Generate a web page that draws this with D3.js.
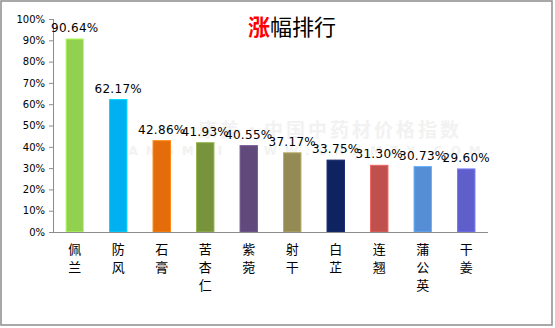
<!DOCTYPE html>
<html>
<head>
<meta charset="utf-8">
<script src="https://cdn.jsdelivr.net/npm/d3@7"></script>
<style>
  html, body { margin: 0; padding: 0; background: #fff; }
  svg { display: block; }
</style>
</head>
<body>
<svg id="chart" width="555" height="328"></svg>
<script>
// Herb names (one character per line on the axis) and their price gains
const herbs = ["佩兰", "防风", "石膏", "苦杏仁", "紫菀", "射干", "白芷", "连翘", "蒲公英", "干姜"];
const gains = [0.9064, 0.6217, 0.4286, 0.4193, 0.4055, 0.3717, 0.3375, 0.3130, 0.3073, 0.2960];
const barColors = ["#92D050", "#00B0F0", "#E46C0A", "#77933C", "#604A7B",
                   "#948A54", "#0F2360", "#C0504D", "#558ED5", "#5F5FCC"];
const yTicks = [0, 0.1, 0.2, 0.3, 0.4, 0.5, 0.6, 0.7, 0.8, 0.9, 1.0];

const svg = d3.select("#chart");

// outer frame
svg.append("rect")
  .attr("x", 1).attr("y", 1).attr("width", 551).attr("height", 324)
  .attr("fill", "#fff").attr("stroke", "#8c8c8c").attr("stroke-width", 1.5);

// faint watermark
const wm = svg.append("g").attr("fill", "#f2f2f2");
wm.append("text")
  .attr("x", 330).attr("y", 137).attr("text-anchor", "middle")
  .attr("font-family", "Noto Sans CJK SC").attr("font-weight", "bold").attr("font-size", 19)
  .attr("letter-spacing", 3)
  .text("康美·中国中药材价格指数");
wm.append("text")
  .attr("x", 300).attr("y", 155).attr("text-anchor", "middle")
  .attr("font-family", "DejaVu Sans").attr("font-weight", "bold").attr("font-size", 12)
  .attr("letter-spacing", 8)
  .text("KANGMEI WWW.CNKMZY.COM");

const x = d3.scaleBand().domain(herbs).range([53, 488]).paddingInner(0.6).paddingOuter(0.3);
const y = d3.scaleLinear().domain([0, 1]).range([232, 19]);

// y axis
const yAxis = svg.append("g")
  .attr("transform", "translate(53,0)")
  .call(d3.axisLeft(y).tickValues(yTicks).tickFormat(d3.format(".0%")).tickSize(4).tickPadding(4));
yAxis.select(".domain").attr("stroke", "#8c8c8c").attr("d", "M0.5,19V232.5");
yAxis.selectAll(".tick line").attr("stroke", "#8c8c8c");
yAxis.selectAll(".tick text")
  .attr("font-family", "DejaVu Sans").attr("font-size", 10).attr("fill", "#000");

// bars
svg.append("g").selectAll("rect")
  .data(herbs)
  .join("rect")
  .attr("x", d => x(d))
  .attr("y", (d, i) => y(gains[i]))
  .attr("width", x.bandwidth())
  .attr("height", (d, i) => y(0) - y(gains[i]))
  .attr("fill", (d, i) => barColors[i])
  .attr("stroke", (d, i) => d3.color(barColors[i]).brighter(0.6))
  .attr("stroke-width", 1);

// x axis baseline
svg.append("line")
  .attr("x1", 53).attr("x2", 488).attr("y1", 232.5).attr("y2", 232.5)
  .attr("stroke", "#8c8c8c").attr("stroke-width", 1);

// value labels
svg.append("g").selectAll("text")
  .data(herbs)
  .join("text")
  .attr("x", d => x(d) + x.bandwidth() / 2)
  .attr("y", (d, i) => y(gains[i]) - 7)
  .attr("text-anchor", "middle")
  .attr("font-family", "DejaVu Sans").attr("font-size", 12).attr("letter-spacing", 0.3)
  .attr("fill", "#000")
  .text((d, i) => d3.format(".2%")(gains[i]));

// category labels, stacked vertically
const cat = svg.append("g").selectAll("text")
  .data(herbs)
  .join("text")
  .attr("text-anchor", "middle")
  .attr("font-family", "Noto Sans CJK SC").attr("font-size", 13)
  .attr("fill", "#000");
cat.each(function (d) {
  const t = d3.select(this);
  const cx = x(d) + x.bandwidth() / 2;
  Array.from(d).forEach((ch, k) => {
    t.append("tspan").attr("x", cx).attr("y", 254 + k * 18).text(ch);
  });
});

// title
const title = svg.append("text")
  .attr("x", 248).attr("y", 35)
  .attr("font-family", "Noto Sans CJK SC").attr("font-size", 22);
title.append("tspan").attr("fill", "#ff0000").attr("font-weight", "bold").text("涨");
title.append("tspan").attr("fill", "#000").text("幅排行");
</script>
</body>
</html>
